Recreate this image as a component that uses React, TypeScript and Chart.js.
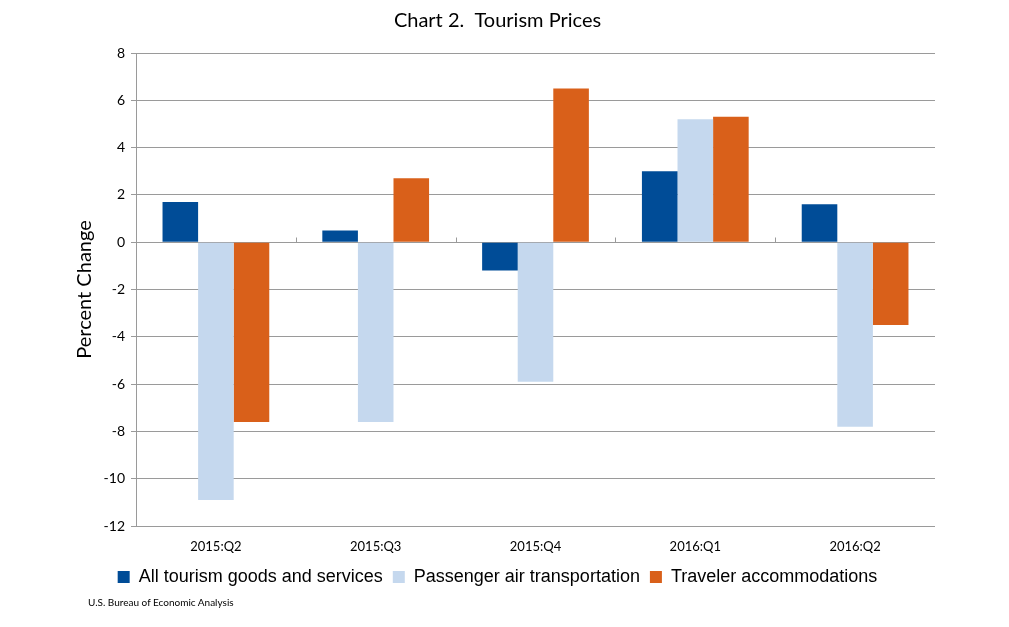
import React, { useEffect, useRef } from "react";
import { Chart, registerables } from "chart.js";

Chart.register(...registerables);

const categories = ["2015:Q2", "2015:Q3", "2015:Q4", "2016:Q1", "2016:Q2"];
const allTourism = [1.7, 0.5, -1.2, 3.0, 1.6];
const passengerAir = [-10.9, -7.6, -5.9, 5.2, -7.8];
const travelerAccom = [-7.6, 2.7, 6.5, 5.3, -3.5];
const seriesNames = [
  "All tourism goods and services",
  "Passenger air transportation",
  "Traveler accommodations",
];
const yMin = -12;
const yMax = 8;
const yStep = 2;

const GRID = "#9a9a9a";

const zeroTicks = {
  id: "zeroTicks",
  afterDatasetsDraw(chart: any) {
    const { ctx } = chart;
    const x = chart.scales.x;
    const y = chart.scales.y;
    const y0 = Math.round(y.getPixelForValue(0)) + 0.5;
    ctx.save();
    ctx.strokeStyle = GRID;
    ctx.lineWidth = 1;
    ctx.beginPath();
    for (let i = 1; i < categories.length; i++) {
      const px = Math.round((x.getPixelForValue(i - 1) + x.getPixelForValue(i)) / 2) + 0.5;
      ctx.moveTo(px, y0 - 5);
      ctx.lineTo(px, y0);
    }
    ctx.stroke();
    ctx.restore();
  },
};

export default function App() {
  const ref = useRef<HTMLCanvasElement | null>(null);
  useEffect(() => {
    if (!ref.current) return;
    const chart = new Chart(ref.current, {
      type: "bar",
      data: {
        labels: categories,
        datasets: [
          { label: seriesNames[0], data: allTourism, backgroundColor: "#004C97" },
          { label: seriesNames[1], data: passengerAir, backgroundColor: "#C5D8EE" },
          { label: seriesNames[2], data: travelerAccom, backgroundColor: "#D9601A" },
        ],
      },
      options: {
        animation: false,
        responsive: false,
        maintainAspectRatio: false,
        layout: { padding: { left: 60, right: 74, top: 9, bottom: 31 } },
        datasets: { bar: { categoryPercentage: 0.668, barPercentage: 1.0 } },
        scales: {
          x: {
            grid: { display: false },
            border: { display: false },
            ticks: { color: "#000", font: { family: "Lato", size: 13 }, padding: 5 },
            afterFit: (s: any) => {
              s.height = 32;
            },
          },
          y: {
            min: yMin,
            max: yMax,
            ticks: { stepSize: yStep, color: "#000", font: { family: "Lato", size: 14 }, padding: 6 },
            grid: { color: GRID, tickLength: 5, drawTicks: true },
            border: { display: true, color: GRID },
            title: {
              display: true,
              text: "Percent Change",
              color: "#000",
              font: { family: "Lato", size: 20 },
              padding: { top: 13, bottom: 0 },
            },
            afterFit: (s: any) => {
              s.width = 76;
            },
          },
        },
        plugins: {
          title: {
            display: true,
            text: "Chart 2.  Tourism Prices",
            color: "#000",
            font: { family: "Lato", size: 20, weight: "normal" },
            padding: { top: 0, bottom: 20 },
          },
          legend: {
            position: "bottom",
            labels: {
              color: "#000",
              font: { family: "Liberation Sans", size: 18 },
              boxWidth: 12,
              boxHeight: 12,
              padding: 10,
            },
          },
          tooltip: { enabled: false },
        },
      },
      plugins: [zeroTicks],
    });
    return () => chart.destroy();
  }, []);
  return (
    <div style={{ position: "absolute", left: 0, top: 0, width: 1009, height: 627, background: "#fff" }}>
      <canvas ref={ref} width={1009} height={627} style={{ display: "block" }} />
      <div
        style={{
          position: "absolute",
          left: 88,
          top: 596,
          fontFamily: "Lato",
          fontSize: 10,
          color: "#000",
          whiteSpace: "nowrap",
        }}
      >
        U.S. Bureau of Economic Analysis
      </div>
    </div>
  );
}
